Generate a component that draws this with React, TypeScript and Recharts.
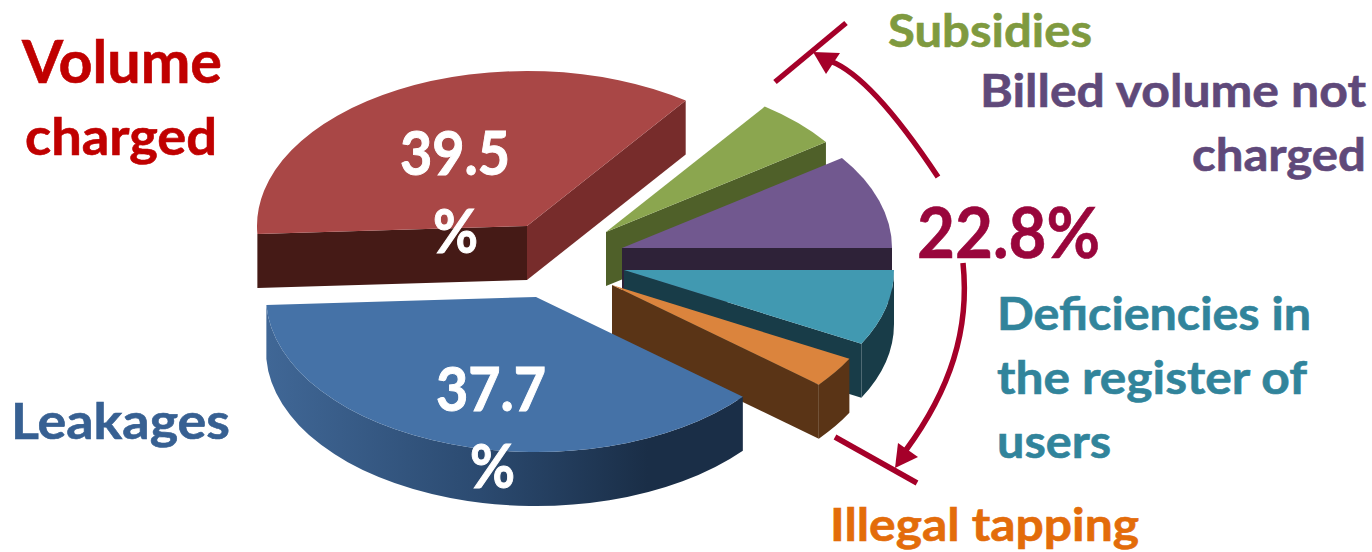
import React from "react";
import { PieChart, Pie, Cell } from "recharts";

const sliceNames = ["Volume charged", "Subsidies", "Billed volume not charged", "Deficiencies in the register of users", "Illegal tapping", "Leakages"];
const sliceValues = [39.5, 4.5, 8.6, 6.9, 2.8, 37.7];
const topColors = ["#a94746", "#8ba64f", "#71588f", "#4199b1", "#db843d", "#4572a7"];
const cutColors = ["#451a16", "#4f6029", "#2e2238", "#183c48", "#5a3416", "#1a2e47"];
const sideColors = ["#772c2b", "#4f6029", "#2e2238", "#183c48", "#5a3416", "url(#blueWall)"];
const offsets = [[-9, -36], [70, -30], [86, -14], [88, 8], [76, 23], [0, 35]];

const CX = 536, CY = 262, RX = 270, RY = 155, DEPTH = 54, START = 183;
// The picture is drawn in perspective: pie progress (deg) -> drawn progress (deg)
const warpFrom = [0, 142.2, 224.28, 360];
const warpTo = [0, 129, 223, 360];
const warp = (a: number) => {
  const d = START - a;
  for (let i = 1; i < warpFrom.length; i++) {
    if (d <= warpFrom[i] + 1e-6) {
      const k = (d - warpFrom[i - 1]) / (warpFrom[i] - warpFrom[i - 1]);
      return START - (warpTo[i - 1] + k * (warpTo[i] - warpTo[i - 1]));
    }
  }
  return START - 360;
};
const pt = (cx: number, cy: number, t: number, dy = 0) => {
  const r = (t * Math.PI) / 180;
  return [cx + RX * Math.cos(r), cy - RY * Math.sin(r) + dy];
};
const arcTo = (cx: number, cy: number, from: number, to: number, dy: number) => {
  const [x1, y1] = pt(cx, cy, to, dy);
  const sweep = to < from ? 1 : 0;
  const large = Math.abs(to - from) > 180 ? 1 : 0;
  return `A${RX} ${RY} 0 ${large} ${sweep} ${x1} ${y1}`;
};

function Slice3D(props: any) {
  const { startAngle, endAngle, index } = props;
  const t1 = warp(startAngle);
  const t2 = warp(endAngle);
  const cx = CX + offsets[index][0];
  const cy = CY + offsets[index][1];
  const p1 = pt(cx, cy, t1);
  const p2 = pt(cx, cy, t2);
  const cos1 = Math.cos((t1 * Math.PI) / 180);
  const cos2 = Math.cos((t2 * Math.PI) / 180);
  const parts: React.ReactNode[] = [];
  if (cos1 < 0) {
    parts.push(<path key="c1" fill={cutColors[index]} d={`M${cx} ${cy} L${p1[0]} ${p1[1]} L${p1[0]} ${p1[1] + DEPTH} L${cx} ${cy + DEPTH} Z`} />);
  }
  if (cos2 > 0) {
    const fill = index === 0 ? sideColors[0] : cutColors[index];
    parts.push(<path key="c2" fill={fill} d={`M${cx} ${cy} L${p2[0]} ${p2[1]} L${p2[0]} ${p2[1] + DEPTH} L${cx} ${cy + DEPTH} Z`} />);
  }
  const wallFrom = Math.min(t1, 0);
  const wallTo = Math.max(t2, -180);
  if (wallFrom > wallTo) {
    const a = pt(cx, cy, wallFrom);
    const b = pt(cx, cy, wallTo, DEPTH);
    parts.push(
      <path
        key="w"
        fill={sideColors[index]}
        d={`M${a[0]} ${a[1]} ${arcTo(cx, cy, wallFrom, wallTo, 0)} L${b[0]} ${b[1]} ${arcTo(cx, cy, wallTo, wallFrom, DEPTH)} Z`}
      />
    );
  }
  parts.push(<path key="t" fill={topColors[index]} d={`M${cx} ${cy} L${p1[0]} ${p1[1]} ${arcTo(cx, cy, t1, t2, 0)} Z`} />);
  return <g>{parts}</g>;
}

const chartData = sliceNames.map((name, i) => ({ name, value: sliceValues[i] }));
const FONT = "Lato, Carlito, sans-serif";
const MAROON = "#99063c";
const ARROW = "#a50029";

type Label = [string, number, number, number, number, string];
const labels: Label[] = [
  ["Volume", 22, 83, 60, 200, "#c00000"],
  ["charged", 25, 155, 52, 192, "#c00000"],
  ["Subsidies", 888, 47, 46, 204, "#7f9a3f"],
  ["Billed volume not", 980, 107, 46, 386, "#5f497a"],
  ["charged", 1192, 171, 46, 174, "#5f497a"],
  ["22.8%", 917, 258, 70, 183, MAROON],
  ["Deficiencies in", 997, 330, 46, 314, "#31849b"],
  ["the register of", 997, 394, 46, 310, "#31849b"],
  ["users", 997, 458, 46, 114, "#31849b"],
  ["Illegal tapping", 830, 541, 45, 309, "#e36c0a"],
  ["Leakages", 11, 439, 50, 219, "#376092"],
];

// Only the two big slices carry their value on the pie.
const valuePlacement: Record<number, [number, number, number, number]> = {
  0: [400, 175, 433, 253],
  5: [436, 411, 470, 488],
};
function ValueLabel(props: any) {
  const place = valuePlacement[props.index];
  if (!place) return null;
  const style = { fontFamily: FONT, fontWeight: 700, fontSize: 62, fill: "#ffffff", stroke: "#ffffff", strokeWidth: 1 };
  return (
    <g>
      <text x={place[0]} y={place[1]} {...style} textLength={110} lengthAdjust="spacingAndGlyphs">
        {props.value.toFixed(1)}
      </text>
      <text x={place[2]} y={place[3]} {...style} textLength={45} lengthAdjust="spacingAndGlyphs">
        %
      </text>
    </g>
  );
}

export default function App() {
  return (
    <div style={{ position: "absolute", left: 0, top: 0, width: 1372, height: 552, background: "#fff" }}>
      <PieChart width={1372} height={552} margin={{ top: 0, right: 0, bottom: 0, left: 0 }}>
        <defs>
          <linearGradient id="blueWall" gradientUnits="userSpaceOnUse" x1="267" y1="0" x2="743" y2="0">
            <stop offset="0" stopColor="#406796" />
            <stop offset="0.45" stopColor="#2b4a70" />
            <stop offset="0.8" stopColor="#1a2e47" />
            <stop offset="1" stopColor="#1a2e47" />
          </linearGradient>
        </defs>
        <Pie
          data={chartData}
          dataKey="value"
          nameKey="name"
          cx={CX}
          cy={CY}
          innerRadius={0}
          outerRadius={RX}
          startAngle={START}
          endAngle={START - 360}
          paddingAngle={0}
          stroke="none"
          shape={Slice3D}
          isAnimationActive={false}
          label={ValueLabel}
          labelLine={false}
        >
          {chartData.map((d, i) => (
            <Cell key={d.name} fill={topColors[i]} />
          ))}
        </Pie>
        <g fill="none" stroke={ARROW} strokeWidth={5.5}>
          <path d="M775 82 L846 23" />
          <path d="M938 177 Q871 76 830 61" />
          <path d="M835 437 L917 483" />
          <path d="M963 263 C970 330 950 390 906 450" />
        </g>
        <path d="M813 52 L840 53 L826 74 Z" fill={ARROW} />
        <path d="M895 468 L898 443 L918 457 Z" fill={ARROW} />
        {labels.map(([text, x, y, size, width, color], i) => (
          <text
            key={i}
            x={x}
            y={y}
            fontFamily={FONT}
            fontWeight={700}
            fontSize={size}
            fill={color}
            stroke={color}
            strokeWidth={0.6}
            textLength={width}
            lengthAdjust="spacingAndGlyphs"
          >
            {text}
          </text>
        ))}
      </PieChart>
    </div>
  );
}
